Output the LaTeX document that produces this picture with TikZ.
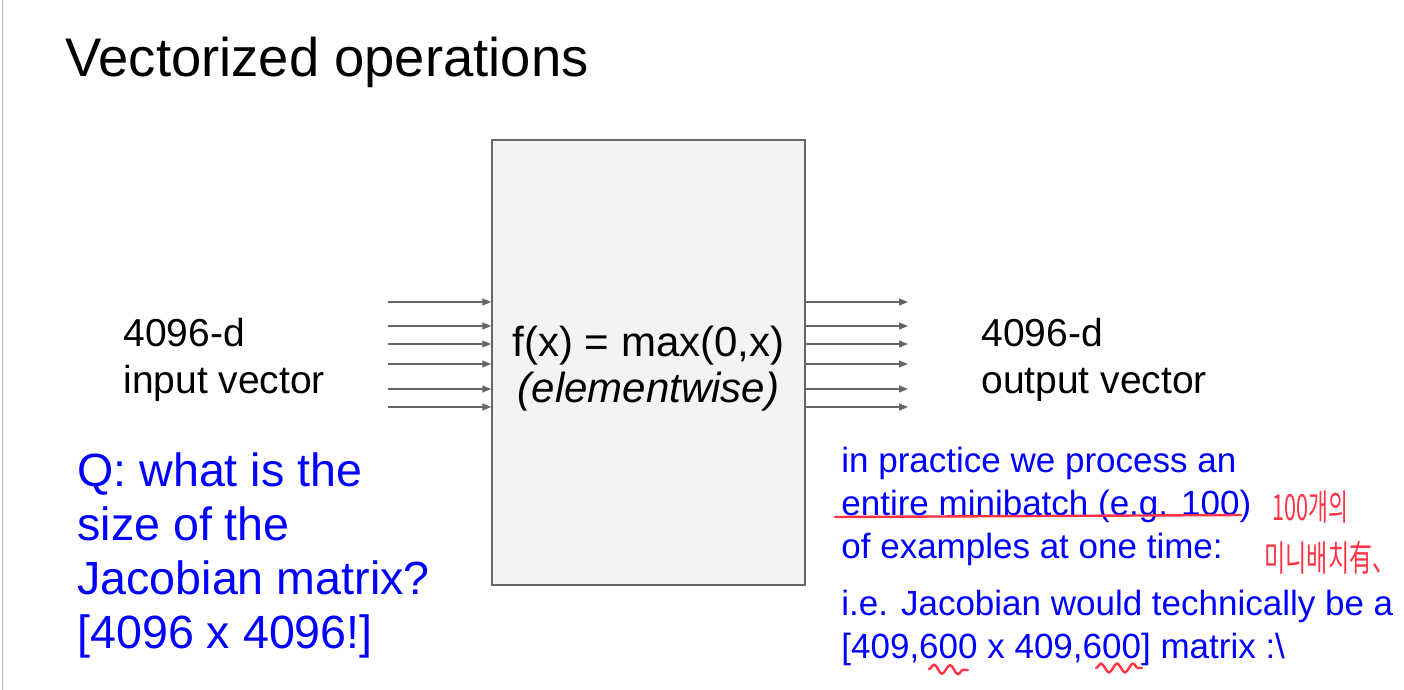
\documentclass[tikz,border=0pt]{standalone}
\usepackage{fontspec}
\setmainfont{Liberation Sans}
\newfontfamily\krfont{Noto Sans CJK KR}
\usetikzlibrary{arrows.meta,decorations.pathmorphing}
\definecolor{boxgray}{HTML}{F3F3F3}
\definecolor{linegray}{HTML}{666666}
\definecolor{qblue}{HTML}{0000FF}
\definecolor{penred}{HTML}{FF3344}
\tikzset{
  vecarrow/.style={draw=linegray, line width=0.6pt, -{Triangle[length=4.5pt,width=3.5pt]}},
  lbl/.style={inner sep=0pt, anchor=base west, align=left},
  pen/.style={draw=penred, line width=1.2pt, line cap=round},
  penwave/.style={pen, decorate, decoration={snake, segment length=8pt, amplitude=2.2pt}},
}
\begin{document}
\begin{tikzpicture}[x=0.5pt,y=-0.5pt]
  \useasboundingbox (0,0) rectangle (1404,690);
  \draw[black!30] (2,0) -- (2,690);
  % title
  \node[lbl, font=\fontsize{27.2}{30}\selectfont] (title) at (65,77) {Vectorized operations};
  % relu block
  \node[draw=linegray, fill=boxgray, line width=0.75pt, minimum width=156.5pt, minimum height=222.5pt] (relu) at (648.5,362.5) {};
  \node[align=center, inner sep=0pt, font=\fontsize{21}{23}\selectfont] (relutext) at ([yshift=-3pt]relu.center) {f(x) = max(0,x)\\\textit{(elementwise)}};
  % input and output arrows
  \foreach \y [count=\i] in {302,326,344,364,389,407} {
    \coordinate (in\i) at (388,\y);
    \coordinate (out\i) at (908,\y);
    \draw[vecarrow] (in\i) -- (in\i -| relu.west);
    \draw[vecarrow] (out\i -| relu.east) -- (out\i);
  }
  % labels (anchored at the last line)
  \node[lbl, font=\fontsize{19.5}{23.3}\selectfont] (invec) at (123,393) {4096-d\\input vector};
  \node[lbl, font=\fontsize{19.5}{23.3}\selectfont] (outvec) at (981,393) {4096-d\\output vector};
  % blue notes
  \node[lbl, text=qblue, font=\fontsize{23.3}{27}\selectfont] (question) at (77,648) {Q: what is the\\size of the\\Jacobian matrix?\\{[}4096 x 4096!{]}};
  \node[lbl, text=qblue, font=\fontsize{17.5}{21.5}\selectfont] (practice) at (841,558) {in practice we process an\\entire minibatch (e.g. 100)\\of examples at one time:};
  \node[lbl, text=qblue, font=\fontsize{17.5}{21.5}\selectfont] (jacsize) at (841,658) {i.e. Jacobian would technically be a\\{[}409,600 x 409,600{]} matrix :\textbackslash};
  % red pen marks
  \draw[pen] (835,517) -- (1241,515);
  \draw[penwave] (929,669) -- (968,670);
  \draw[penwave] (1096,668) -- (1142,668);
  \node[lbl, text=penred, font=\krfont\fontsize{18}{20}\selectfont] (note1) at (1272,520) {\scalebox{0.6}[1]{100개의}};
  \node[lbl, text=penred, font=\krfont\fontsize{18}{20}\selectfont] (note2) at (1264,571) {\scalebox{0.64}[1]{미니배치有、}};
\end{tikzpicture}
\end{document}
